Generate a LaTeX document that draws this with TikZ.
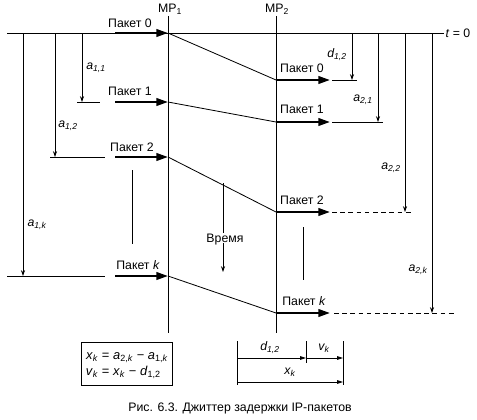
\documentclass[tikz,border=0pt]{standalone}
\usepackage{fontspec}
\setmainfont{Liberation Sans}
\usetikzlibrary{arrows.meta}

\begin{document}
\begin{tikzpicture}[x=0.03cm,y=-0.03cm,line width=0.7pt,
	lbl/.style={font=\fontsize{10.5}{12}\selectfont,inner sep=1pt},
	var/.style={font=\fontsize{10.5}{12}\selectfont\itshape,inner sep=1pt},
	pkt/.style={line width=1.9pt,-{Triangle[length=10pt,width=6.5pt]}},
	dly/.style={-{Stealth[length=5pt,width=3.5pt]}},
	dimarrow/.style={-{Triangle[length=5pt,width=3pt]}},
	gap/.style={dash pattern=on 4pt off 3pt}]
	\useasboundingbox (0,0) rectangle (477,419);

	\node[lbl,anchor=west] (t0) at (444,33) {\textit{t} = 0};
	\coordinate (t0l) at (7,33);
	\draw (t0l) -- (t0.west);

	\node[lbl] (mp1) at (170,9) {MP\textsubscript{1}};
	\node[lbl] (mp2) at (277,9) {MP\textsubscript{2}};
	\coordinate (mp1e) at (168,333);
	\coordinate (mp2e) at (276,333);
	\draw (mp1.south -| mp1e) -- (mp1e);
	\draw (mp2.south -| mp2e) -- (mp2e);

	\coordinate (in0) at (168,33);
	\coordinate (in1) at (168,102);
	\coordinate (in2) at (168,157);
	\coordinate (ink) at (168,276);
	\coordinate (out0) at (276,80);
	\coordinate (out1) at (276,122);
	\coordinate (out2) at (276,212);
	\coordinate (outk) at (276,313);

	\coordinate (s0) at (115,33);
	\coordinate (s1) at (115,102);
	\coordinate (s2) at (115,157);
	\coordinate (sk) at (115,276);
	\draw[pkt] (s0) -- (in0);
	\draw[pkt] (s1) -- (in1);
	\draw[pkt] (s2) -- (in2);
	\draw[pkt] (sk) -- (ink);
	\node[lbl] (pa0) at (130,23) {Пакет 0};
	\node[lbl] (pa1) at (130,91) {Пакет 1};
	\node[lbl] (pa2) at (132,147) {Пакет 2};
	\node[lbl] (pak) at (138,265) {Пакет \textit{k}};

	\draw (in0) -- (out0);
	\draw (in1) -- (out1);
	\draw (in2) -- (out2);
	\draw (ink) -- (outk);

	\coordinate (e0) at (330,80);
	\coordinate (e1) at (330,122);
	\coordinate (e2) at (330,212);
	\coordinate (ek) at (330,313);
	\draw[pkt] (out0) -- (e0);
	\draw[pkt] (out1) -- (e1);
	\draw[pkt] (out2) -- (e2);
	\draw[pkt] (outk) -- (ek);
	\node[lbl] (pb0) at (302,68) {Пакет 0};
	\node[lbl] (pb1) at (302,109) {Пакет 1};
	\node[lbl] (pb2) at (302,200) {Пакет 2};
	\node[lbl] (pbk) at (304,301) {Пакет \textit{k}};

	\coordinate (l1a) at (77,102);
	\coordinate (l1b) at (100,102);
	\coordinate (l2a) at (50,157);
	\coordinate (l2b) at (105,157);
	\coordinate (lka) at (7,276);
	\coordinate (lkb) at (105,276);
	\draw (l1a) -- (l1b);
	\draw (l2a) -- (l2b);
	\draw (lka) -- (lkb);

	\coordinate (r0a) at (332,80);
	\coordinate (r0b) at (357,80);
	\coordinate (r1a) at (332,122);
	\coordinate (r1b) at (383,122);
	\coordinate (r2a) at (332,212);
	\coordinate (r2b) at (412,212);
	\coordinate (rka) at (334,313);
	\coordinate (rkb) at (455,313);
	\draw (r0a) -- (r0b);
	\draw (r1a) -- (r1b);
	\draw[gap] (r2a) -- (r2b);
	\draw[gap] (rka) -- (rkb);

	\coordinate (a11t) at (82,33);
	\coordinate (a11b) at (82,102);
	\coordinate (a12t) at (55,33);
	\coordinate (a12b) at (55,157);
	\coordinate (a1kt) at (23,33);
	\coordinate (a1kb) at (23,276);
	\draw[dly] (a11t) -- (a11b);
	\draw[dly] (a12t) -- (a12b);
	\draw[dly] (a1kt) -- (a1kb);
	\node[var] (la11) at (96,68) {a\textsubscript{1,1}};
	\node[var] (la12) at (68,126) {a\textsubscript{1,2}};
	\node[var] (la1k) at (37,225) {a\textsubscript{1,\textit{k}}};

	\coordinate (d12t) at (352,33);
	\coordinate (d12b) at (352,80);
	\coordinate (a21t) at (378,33);
	\coordinate (a21b) at (378,122);
	\coordinate (a22t) at (405,33);
	\coordinate (a22b) at (405,212);
	\coordinate (a2kt) at (432,33);
	\coordinate (a2kb) at (432,313);
	\draw[dly] (d12t) -- (d12b);
	\draw[dly] (a21t) -- (a21b);
	\draw[dly] (a22t) -- (a22b);
	\draw[dly] (a2kt) -- (a2kb);
	\node[var] (ld12) at (337,55) {d\textsubscript{1,2}};
	\node[var] (la21) at (363,100) {a\textsubscript{2,1}};
	\node[var] (la22) at (391,168) {a\textsubscript{2,2}};
	\node[var] (la2k) at (418,270) {a\textsubscript{2,\textit{k}}};

	\coordinate (g1a) at (132,170);
	\coordinate (g1b) at (132,244);
	\coordinate (g2a) at (303,227);
	\coordinate (g2b) at (303,280);
	\draw (g1a) -- (g1b);
	\draw (g2a) -- (g2b);

	\node[lbl] (time) at (225,240) {Время};
	\coordinate (timet) at (223,183);
	\coordinate (timeb) at (223,272);
	\draw (timet) -- (timet |- time.north);
	\draw[dly] (timeb |- time.south) ++(0,-4) -- (timeb);

	\node[draw,line width=0.9pt,inner xsep=4pt,inner ysep=4pt,font=\fontsize{11}{14}\selectfont] (formula) at (127,364)
		{\begin{tabular}{@{}r@{ = }l@{}}\textit{x}\textsubscript{\textit{k}} & \textit{a}\textsubscript{2,\textit{k}} − \textit{a}\textsubscript{1,\textit{k}}\\ \textit{v}\textsubscript{\textit{k}} & \textit{x}\textsubscript{\textit{k}} − \textit{d}\textsubscript{1,2}\end{tabular}};

	\coordinate (k1t) at (237,341);
	\coordinate (k1b) at (237,385);
	\coordinate (k2t) at (306,341);
	\coordinate (k2b) at (306,363);
	\coordinate (k3t) at (343,341);
	\coordinate (k3b) at (343,385);
	\draw (k1t) -- (k1b);
	\draw (k2t) -- (k2b);
	\draw (k3t) -- (k3b);
	\draw[dimarrow] (k1t |- 0,358) -- (k2t |- 0,358);
	\draw[dimarrow] (k2t |- 0,358) -- (k3t |- 0,358);
	\draw[dimarrow] (k1t |- 0,382) -- (k3t |- 0,382);
	\node[var] (dd12) at (270,348) {d\textsubscript{1,2}};
	\node[var] (dvk) at (324,348) {v\textsubscript{\textit{k}}};
	\node[var] (dxk) at (290,372) {x\textsubscript{\textit{k}}};

	\node[lbl] (caption) at (240,408) {Рис. 6.3. Джиттер задержки IP-пакетов};
\end{tikzpicture}
\end{document}
